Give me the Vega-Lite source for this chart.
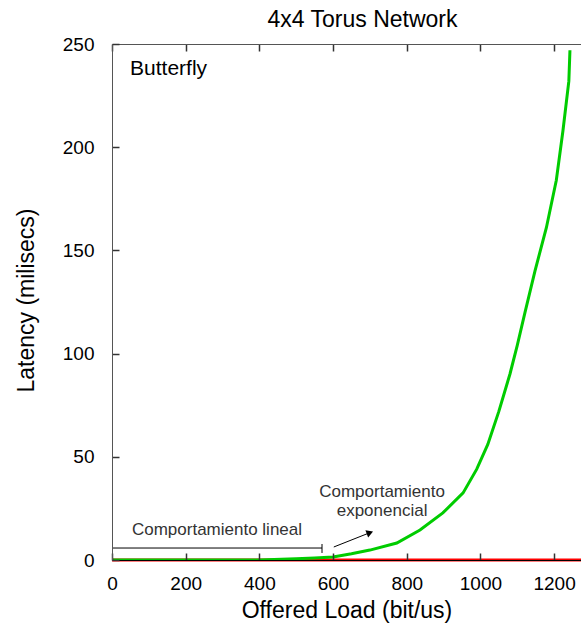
{
  "$schema": "https://vega.github.io/schema/vega-lite/v6.json",
  "width": 469,
  "height": 516,
  "autosize": {"type": "none"},
  "padding": {"left": 112, "top": 44, "right": 0, "bottom": 66},
  "title": {"text": "4x4 Torus Network", "fontSize": 23, "fontWeight": "normal", "font": "Liberation Sans", "color": "#000000", "anchor": "middle", "dx": 16, "offset": 3},
  "config": {"view": {"stroke": null}, "font": "Liberation Sans"},
  "datasets": {
    "red": [
      {"x": 0, "y": 0}, {"x": 400, "y": 0}, {"x": 800, "y": 0}, {"x": 1200, "y": 0}, {"x": 1273, "y": 0}
    ],
    "green": [
      {"x": 0, "y": 0}, {"x": 100, "y": 0}, {"x": 200, "y": 0}, {"x": 300, "y": 0}, {"x": 400, "y": 0},
      {"x": 440, "y": 0.2}, {"x": 500, "y": 0.6}, {"x": 550, "y": 1.0}, {"x": 600, "y": 1.5},
      {"x": 650, "y": 3.0}, {"x": 700, "y": 4.8}, {"x": 773, "y": 8.2}, {"x": 836, "y": 14.5},
      {"x": 898, "y": 22.8}, {"x": 953, "y": 32.5}, {"x": 990, "y": 44}, {"x": 1020, "y": 56},
      {"x": 1050, "y": 72}, {"x": 1080, "y": 90}, {"x": 1100, "y": 104},
      {"x": 1121, "y": 120}, {"x": 1148, "y": 140}, {"x": 1179, "y": 161}, {"x": 1206, "y": 184},
      {"x": 1224, "y": 208}, {"x": 1240, "y": 232}, {"x": 1243, "y": 247}
    ],
    "rules": [
      {"x": 0, "x2": 570, "y": 5.8, "y2": 5.8},
      {"x": 570, "x2": 570, "y": 3.4, "y2": 7.75},
      {"x": 602, "x2": 698, "y": 6.3, "y2": 13.1}
    ],
    "head": [{"x": 700, "y": 13.2}],
    "notes": [
      {"x": 285, "y": 12.1, "t": "Comportamiento lineal"},
      {"x": 733, "y": 30.5, "t": "Comportamiento"},
      {"x": 733, "y": 21.3, "t": "exponencial"}
    ],
    "legend": [{"x": 49, "y": 235, "t": "Butterfly"}]
  },
  "layer": [
    {
      "data": {"name": "red"},
      "mark": {"type": "line", "color": "#ff0000", "strokeWidth": 3, "clip": false},
      "encoding": {
        "x": {
          "field": "x", "type": "quantitative",
          "scale": {"domain": [0, 1273], "nice": false, "zero": false},
          "axis": {
            "orient": "bottom", "values": [0, 200, 400, 600, 800, 1000, 1200], "format": "d",
            "ticks": true, "tickSize": -7, "tickWidth": 1.5, "tickColor": "#333333", "tickOpacity": 1,
            "domainColor": "#000000", "domainWidth": 1,
            "labelFontSize": 19, "labelColor": "#000000", "labelPadding": 21, "labelFlush": false,
            "grid": false, "title": "Offered Load (bit/us)", "titleFontSize": 23,
            "titleFontWeight": "normal", "titleColor": "#000000", "titleY": 57, "titleBaseline": "alphabetic", "zindex": 1
          }
        },
        "y": {
          "field": "y", "type": "quantitative",
          "scale": {"domain": [0, 250], "nice": false},
          "axis": {
            "values": [0, 50, 100, 150, 200, 250],
            "ticks": true, "tickSize": -7, "tickWidth": 1.5, "tickColor": "#333333", "tickOpacity": 1,
            "domainColor": "#555555",
            "labelFontSize": 19, "labelColor": "#000000", "labelPadding": 25, "grid": false,
            "title": "Latency (milisecs)", "titleFontSize": 23, "titleFontWeight": "normal",
            "titleColor": "#000000", "titleX": -86, "titleY": 256, "titleBaseline": "middle", "zindex": 1
          }
        }
      }
    },
    {
      "data": {"name": "green"},
      "mark": {"type": "line", "color": "#00cc00", "strokeWidth": 3, "clip": true},
      "encoding": {
        "x": {
          "field": "x", "type": "quantitative",
          "axis": {
            "orient": "top", "values": [0, 200, 400, 600, 800, 1000, 1200],
            "ticks": true, "tickSize": -7, "tickWidth": 1.5, "tickColor": "#333333", "tickOpacity": 1,
            "domainColor": "#555555",
            "labels": false, "title": null, "grid": false, "zindex": 1
          }
        },
        "y": {"field": "y", "type": "quantitative", "axis": null}
      }
    },
    {
      "data": {"name": "rules"},
      "mark": {"type": "rule", "color": "#000000", "strokeWidth": 1},
      "encoding": {
        "x": {"field": "x", "type": "quantitative", "axis": null},
        "x2": {"field": "x2"},
        "y": {"field": "y", "type": "quantitative", "axis": null},
        "y2": {"field": "y2"}
      }
    },
    {
      "data": {"name": "head"},
      "mark": {"type": "point", "shape": "triangle-right", "angle": -21, "filled": true, "color": "#000000", "size": 60, "opacity": 1},
      "encoding": {
        "x": {"field": "x", "type": "quantitative", "axis": null},
        "y": {"field": "y", "type": "quantitative", "axis": null}
      }
    },
    {
      "data": {"name": "notes"},
      "mark": {"type": "text", "align": "center", "baseline": "alphabetic", "fontSize": 17, "color": "#333333"},
      "encoding": {
        "x": {"field": "x", "type": "quantitative", "axis": null},
        "y": {"field": "y", "type": "quantitative", "axis": null},
        "text": {"field": "t"}
      }
    },
    {
      "data": {"name": "legend"},
      "mark": {"type": "text", "align": "left", "baseline": "alphabetic", "fontSize": 21, "color": "#000000"},
      "encoding": {
        "x": {"field": "x", "type": "quantitative", "axis": null},
        "y": {"field": "y", "type": "quantitative", "axis": null},
        "text": {"field": "t"}
      }
    }
  ],
  "resolve": {"axis": {"x": "independent", "y": "independent"}}
}
